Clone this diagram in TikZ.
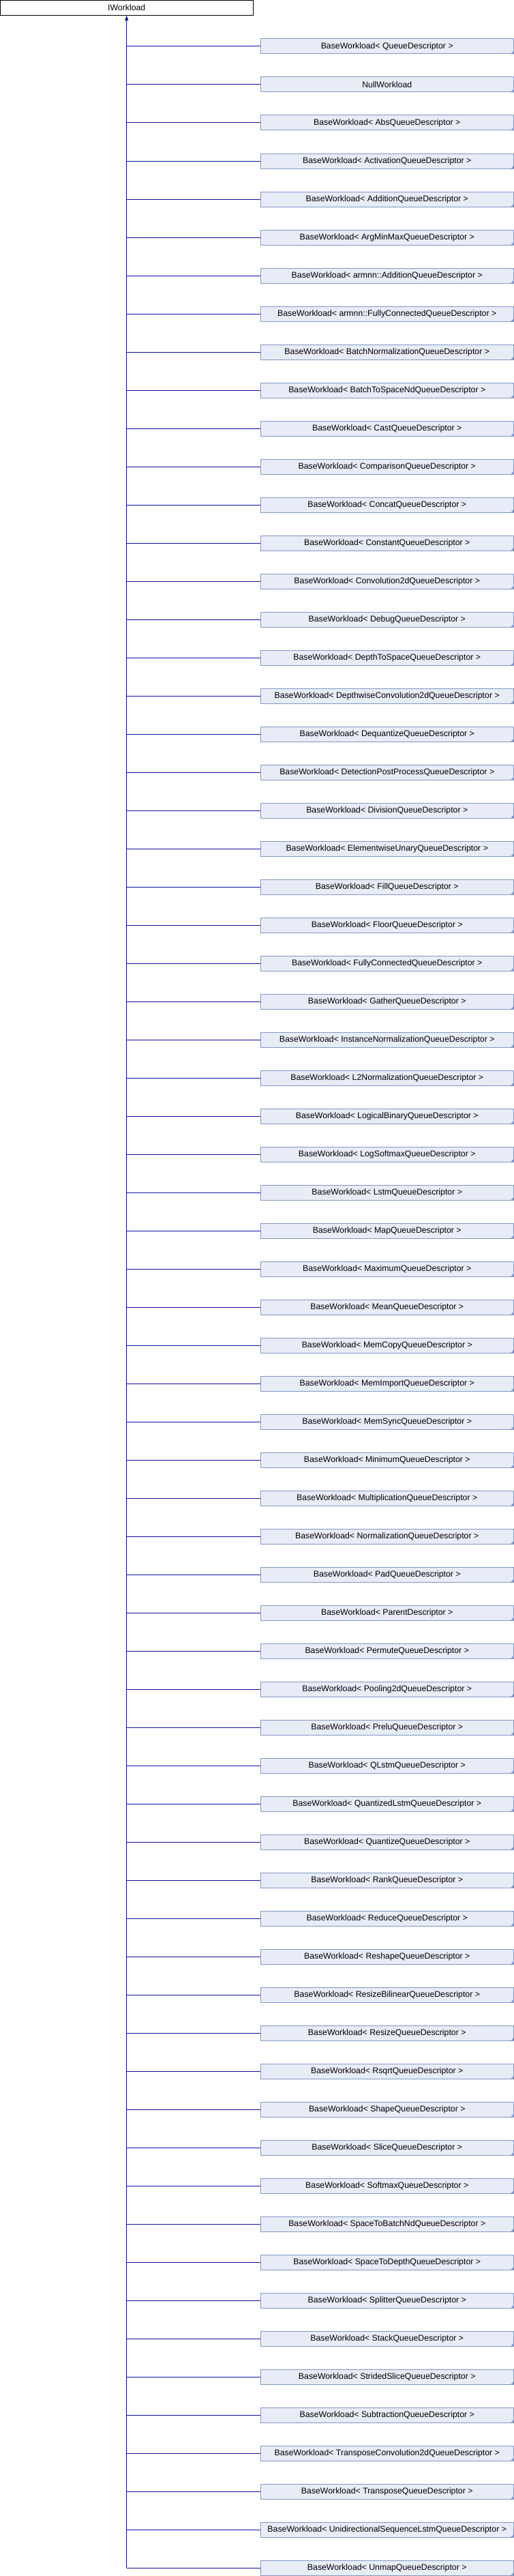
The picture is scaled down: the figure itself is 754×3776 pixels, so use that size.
\documentclass[tikz,border=0pt]{standalone}
\usepackage{fontspec}
\setmainfont{Liberation Sans}
\usetikzlibrary{arrows.meta}
\definecolor{boxfill}{HTML}{E8ECF6}
\definecolor{boxline}{HTML}{8497CA}
\definecolor{edgecol}{HTML}{1010A0}
\begin{document}
\begin{tikzpicture}[x=1pt,y=-1pt,
  topbox/.style={draw=black,fill=white,line width=1pt,minimum width=370.5pt,minimum height=22pt,inner sep=0pt,font=\fontsize{12.3}{14}\selectfont},
  childbox/.style={draw=boxline,fill=boxfill,line width=1pt,minimum width=371pt,minimum height=22pt,inner sep=0pt,font=\fontsize{12.3}{14}\selectfont},
  link/.style={draw=edgecol,line width=1pt}]
\useasboundingbox (0,0) rectangle (754,3776);
\node[topbox] (top) at (185.75,11.5) {IWorkload};
\foreach [count=\i] \t in {
BaseWorkload< QueueDescriptor >,
NullWorkload,
BaseWorkload< AbsQueueDescriptor >,
BaseWorkload< ActivationQueueDescriptor >,
BaseWorkload< AdditionQueueDescriptor >,
BaseWorkload< ArgMinMaxQueueDescriptor >,
BaseWorkload< armnn::AdditionQueueDescriptor >,
BaseWorkload< armnn::FullyConnectedQueueDescriptor >,
BaseWorkload< BatchNormalizationQueueDescriptor >,
BaseWorkload< BatchToSpaceNdQueueDescriptor >,
BaseWorkload< CastQueueDescriptor >,
BaseWorkload< ComparisonQueueDescriptor >,
BaseWorkload< ConcatQueueDescriptor >,
BaseWorkload< ConstantQueueDescriptor >,
BaseWorkload< Convolution2dQueueDescriptor >,
BaseWorkload< DebugQueueDescriptor >,
BaseWorkload< DepthToSpaceQueueDescriptor >,
BaseWorkload< DepthwiseConvolution2dQueueDescriptor >,
BaseWorkload< DequantizeQueueDescriptor >,
BaseWorkload< DetectionPostProcessQueueDescriptor >,
BaseWorkload< DivisionQueueDescriptor >,
BaseWorkload< ElementwiseUnaryQueueDescriptor >,
BaseWorkload< FillQueueDescriptor >,
BaseWorkload< FloorQueueDescriptor >,
BaseWorkload< FullyConnectedQueueDescriptor >,
BaseWorkload< GatherQueueDescriptor >,
BaseWorkload< InstanceNormalizationQueueDescriptor >,
BaseWorkload< L2NormalizationQueueDescriptor >,
BaseWorkload< LogicalBinaryQueueDescriptor >,
BaseWorkload< LogSoftmaxQueueDescriptor >,
BaseWorkload< LstmQueueDescriptor >,
BaseWorkload< MapQueueDescriptor >,
BaseWorkload< MaximumQueueDescriptor >,
BaseWorkload< MeanQueueDescriptor >,
BaseWorkload< MemCopyQueueDescriptor >,
BaseWorkload< MemImportQueueDescriptor >,
BaseWorkload< MemSyncQueueDescriptor >,
BaseWorkload< MinimumQueueDescriptor >,
BaseWorkload< MultiplicationQueueDescriptor >,
BaseWorkload< NormalizationQueueDescriptor >,
BaseWorkload< PadQueueDescriptor >,
BaseWorkload< ParentDescriptor >,
BaseWorkload< PermuteQueueDescriptor >,
BaseWorkload< Pooling2dQueueDescriptor >,
BaseWorkload< PreluQueueDescriptor >,
BaseWorkload< QLstmQueueDescriptor >,
BaseWorkload< QuantizedLstmQueueDescriptor >,
BaseWorkload< QuantizeQueueDescriptor >,
BaseWorkload< RankQueueDescriptor >,
BaseWorkload< ReduceQueueDescriptor >,
BaseWorkload< ReshapeQueueDescriptor >,
BaseWorkload< ResizeBilinearQueueDescriptor >,
BaseWorkload< ResizeQueueDescriptor >,
BaseWorkload< RsqrtQueueDescriptor >,
BaseWorkload< ShapeQueueDescriptor >,
BaseWorkload< SliceQueueDescriptor >,
BaseWorkload< SoftmaxQueueDescriptor >,
BaseWorkload< SpaceToBatchNdQueueDescriptor >,
BaseWorkload< SpaceToDepthQueueDescriptor >,
BaseWorkload< SplitterQueueDescriptor >,
BaseWorkload< StackQueueDescriptor >,
BaseWorkload< StridedSliceQueueDescriptor >,
BaseWorkload< SubtractionQueueDescriptor >,
BaseWorkload< TransposeConvolution2dQueueDescriptor >,
BaseWorkload< TransposeQueueDescriptor >,
BaseWorkload< UnidirectionalSequenceLstmQueueDescriptor >,
BaseWorkload< UnmapQueueDescriptor >}
{
  \node[childbox] (c\i) at (567.75,{68+56*(\i-1)}) {\t};
  \fill[boxline] ([xshift=-5pt]c\i.south east) -- (c\i.south east) -- ([yshift=5pt]c\i.south east) -- cycle;
  \draw[link] (c\i.west) -- (c\i.west -| top.south);
}
\draw[link,-{Triangle[width=5pt,length=7pt]}] (c67.west -| top.south) -- (top.south);
\end{tikzpicture}
\end{document}
